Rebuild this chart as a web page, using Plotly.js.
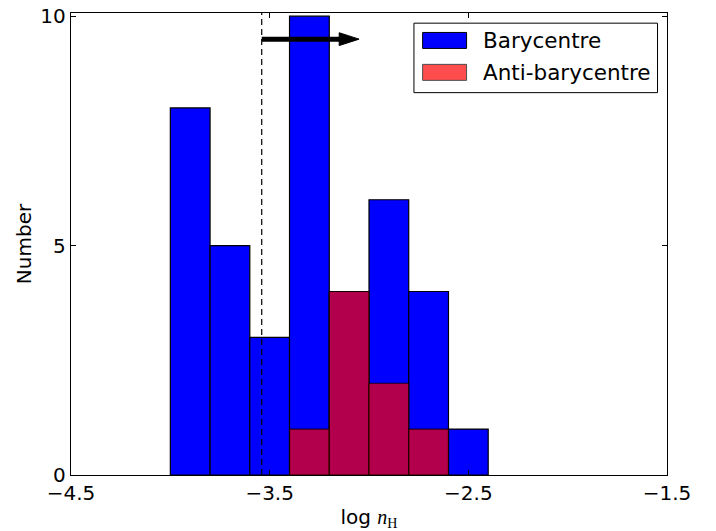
<!DOCTYPE html>
<html>
<head>
<meta charset="utf-8">
<script src="https://cdn.plot.ly/plotly-3.0.1.min.js"></script>
<style>html,body{margin:0;padding:0;background:#fff;}#chart{width:716px;height:531px;}</style>
</head>
<body>
<div id="chart"></div>
<script>
// ---- data ----
const binWidth = 0.2;
const baryBinLefts = [-4.0, -3.8, -3.6, -3.4, -3.2, -3.0, -2.8, -2.6];
const baryCounts   = [8, 5, 3, 10, 4, 6, 4, 1];
const antiBinLefts = [-3.4, -3.2, -3.0, -2.8];
const antiCounts   = [1, 4, 2, 1];
const xTickVals  = [-4.5, -3.5, -2.5, -1.5];
const xTickText  = ['\u22124.5', '\u22123.5', '\u22122.5', '\u22121.5'];
const yTickVals  = [0, 5, 10];
const yTickText  = ['0', '5', '10'];
const seriesNames = ['Barycentre', 'Anti-barycentre'];
const thresholdX = -3.54;
const arrowTipX = -3.05;
const arrowY = 9.5;

const FONT = 'DejaVu Sans, sans-serif';
const blueFill = '#0000ff';
const redFill = 'rgba(255,0,0,0.7)';
const redLegend = '#ff4d4d';

const traces = [
  {type: 'bar', x: baryBinLefts, y: baryCounts, width: binWidth, offset: 0,
   name: seriesNames[0], marker: {color: blueFill, line: {color: '#000', width: 1.2}}, hoverinfo: 'x+y'},
  {type: 'bar', x: antiBinLefts, y: antiCounts, width: binWidth, offset: 0,
   name: seriesNames[1], marker: {color: redFill, line: {color: 'rgba(0,0,0,0.75)', width: 1.2}}, hoverinfo: 'x+y'}
];

// arrow head geometry (data units)
const headLen = 0.1, headHalf = 0.14;
const headPath = 'M ' + arrowTipX + ' ' + arrowY +
  ' L ' + (arrowTipX - headLen) + ' ' + (arrowY + headHalf) +
  ' L ' + (arrowTipX - headLen) + ' ' + (arrowY - headHalf) + ' Z';

// legend geometry (paper units)
const lg = {x0: 0.5754, x1: 0.9841, y0: 0.8276, y1: 0.978,
            sx0: 0.590, sx1: 0.6637, tx: 0.6885,
            rows: [{y: 0.9406, h: 0.0346}, {y: 0.8715, h: 0.0346}]};

const shapes = [
  {type: 'line', xref: 'x', yref: 'paper', x0: thresholdX, x1: thresholdX, y0: 0, y1: 1,
   line: {color: '#000', width: 1.2, dash: '6px,4px'}, layer: 'above'},
  {type: 'line', xref: 'x', yref: 'y', x0: thresholdX, x1: arrowTipX - headLen + 0.01, y0: arrowY, y1: arrowY,
   line: {color: '#000', width: 5}, layer: 'above'},
  {type: 'path', xref: 'x', yref: 'y', path: headPath, fillcolor: '#000', line: {color: '#000', width: 1}, layer: 'above'},
  // legend box
  {type: 'rect', xref: 'paper', yref: 'paper', x0: lg.x0, x1: lg.x1, y0: lg.y0, y1: lg.y1,
   fillcolor: '#fff', line: {color: '#000', width: 1}, layer: 'above'},
  {type: 'rect', xref: 'paper', yref: 'paper', x0: lg.sx0, x1: lg.sx1,
   y0: lg.rows[0].y - lg.rows[0].h / 2, y1: lg.rows[0].y + lg.rows[0].h / 2,
   fillcolor: blueFill, line: {color: '#000', width: 1}, layer: 'above'},
  {type: 'rect', xref: 'paper', yref: 'paper', x0: lg.sx0, x1: lg.sx1,
   y0: lg.rows[1].y - lg.rows[1].h / 2, y1: lg.rows[1].y + lg.rows[1].h / 2,
   fillcolor: redLegend, line: {color: '#4d4d4d', width: 1}, layer: 'above'}
];

const annotations = seriesNames.map((n, i) => ({
  xref: 'paper', yref: 'paper', x: lg.tx, y: lg.rows[i].y, xanchor: 'left', yanchor: 'middle',
  text: n, showarrow: false, font: {family: FONT, size: 21.5, color: '#000'}
}));

const axisCommon = {
  showline: true, linecolor: '#000', linewidth: 1.3, mirror: 'ticks',
  ticks: 'inside', ticklen: 5, tickwidth: 1, tickcolor: '#000',
  showgrid: false, zeroline: false, fixedrange: true,
  tickfont: {family: FONT, size: 20, color: '#000'}
};

const layout = {
  width: 716, height: 531,
  margin: {l: 71, r: 49, t: 13, b: 56, pad: 0},
  paper_bgcolor: '#fff', plot_bgcolor: '#fff',
  barmode: 'overlay', bargap: 0,
  showlegend: false,
  font: {family: FONT, size: 20, color: '#000'},
  xaxis: Object.assign({}, axisCommon, {
    range: [-4.5, -1.5], tickmode: 'array', tickvals: xTickVals, ticktext: xTickText,
    title: {text: 'log <span style="font-family:Liberation Serif"><i>n</i></span><sub><span style="font-family:Liberation Serif">H</span></sub>',
            font: {family: FONT, size: 20, color: '#000'}, standoff: 7}
  }),
  yaxis: Object.assign({}, axisCommon, {
    range: [0, 10.07], tickmode: 'array', tickvals: yTickVals, ticktext: yTickText,
    title: {text: 'Number', font: {family: FONT, size: 20, color: '#000'}, standoff: 3}
  }),
  shapes: shapes,
  annotations: annotations
};

Plotly.newPlot('chart', traces, layout, {displayModeBar: false, staticPlot: true});
</script>
</body>
</html>
